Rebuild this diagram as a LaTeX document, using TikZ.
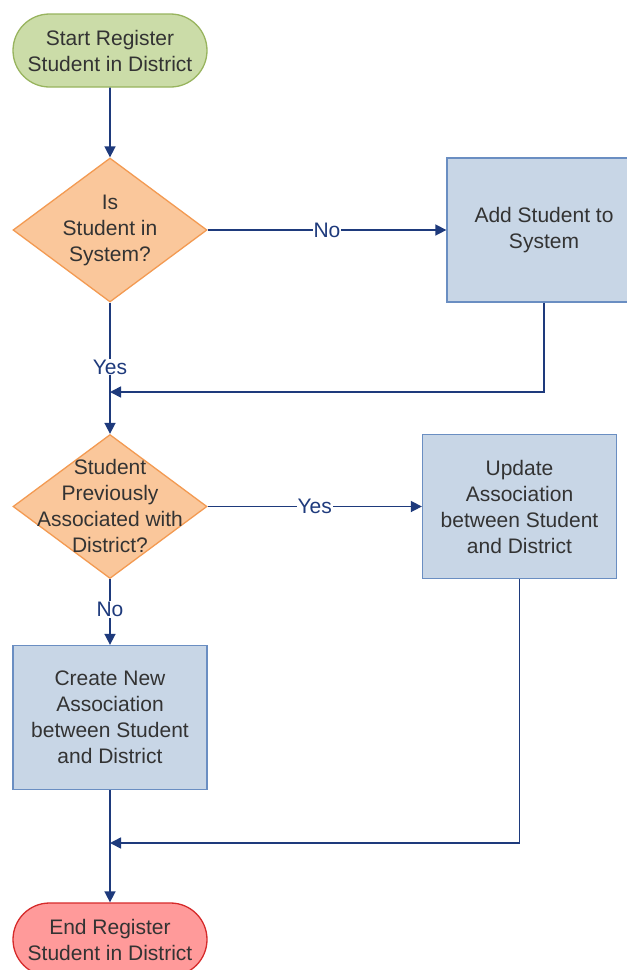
\documentclass[tikz,border=0pt]{standalone}
\usepackage{fontspec}
\setmainfont{Liberation Sans}
\usetikzlibrary{arrows.meta,shapes.geometric,shapes.misc}
\definecolor{termgreen}{HTML}{CBDCA8}
\definecolor{termgreenline}{HTML}{98B45E}
\definecolor{decfill}{HTML}{FAC79B}
\definecolor{decline}{HTML}{F39A52}
\definecolor{procfill}{HTML}{C8D6E6}
\definecolor{procline}{HTML}{6A8EC2}
\definecolor{endfill}{HTML}{FF9A9A}
\definecolor{endline}{HTML}{D62A2A}
\definecolor{flow}{HTML}{1E3A7C}
\definecolor{txtgrey}{HTML}{333333}
\tikzset{
  every node/.style={font=\fontsize{21}{26}\selectfont, text=txtgrey},
  terminal/.style={rounded rectangle, minimum width=194pt, minimum height=73pt,
    inner sep=0pt, line width=1.3pt, align=center},
  startterm/.style={terminal, fill=termgreen, draw=termgreenline},
  endterm/.style={terminal, fill=endfill, draw=endline},
  decision/.style={diamond, minimum width=194pt, minimum height=144pt, inner sep=0pt,
    fill=decfill, draw=decline, line width=1.3pt},
  process/.style={rectangle, minimum width=194pt, minimum height=144pt, inner sep=0pt,
    fill=procfill, draw=procline, line width=1.3pt, align=center},
  caption/.style={align=center, inner sep=0pt},
  flowline/.style={draw=flow, line width=1.6pt},
  flowarrow/.style={flowline, -{Triangle[length=11pt,width=11pt]}},
  branch/.style={fill=white, text=flow, inner sep=1pt},
}
\begin{document}
\begin{tikzpicture}[x=1pt, y=-1pt]
  \useasboundingbox (0,0) rectangle (627,970);
  \clip (0,0) rectangle (627,970);
  \fill[white] (0,0) rectangle (627,970);

  % shapes
  \node[startterm] (start) at (110,50.5) {Start Register\\Student in District};
  \node[decision] (d1) at (110,230) {};
  \node[caption] (d1t) at (110,230) {Is\\Student in\\System?};
  \node[process] (add) at (544,230) {Add Student to\\System};
  \coordinate (j1) at (110,392);
  \node[decision] (d2) at (110,506.5) {};
  \node[caption] (d2t) at (110,506) {Student\\Previously\\Associated with\\District?};
  \node[process] (upd) at (519.5,506.5) {Update\\Association\\between Student\\and District};
  \node[process] (create) at (110,717.5) {Create New\\Association\\between Student\\and District};
  \coordinate (j2) at (110,843);
  \node[endterm] (end) at (110,939.5) {End Register\\Student in District};

  % connectors
  \draw[flowarrow] (start) -- (d1.north);
  \draw[flowarrow] (d1.east) -- node[branch] (lno1) {No} (add.west);
  \draw[flowline] (d1.south) -- node[branch, pos=0.72] (lyes1) {Yes} (j1);
  \draw[flowarrow] (add.south) |- (j1);
  \draw[flowarrow] (j1) -- (d2.north);
  \draw[flowarrow] (d2.east) -- node[branch] (lyes2) {Yes} (upd.west);
  \draw[flowarrow] (d2.south) -- node[branch, pos=0.46] (lno2) {No} (create.north);
  \draw[flowarrow] (upd.south) |- (j2);
  \draw[flowarrow] (create.south) -- (end.north);
\end{tikzpicture}
\end{document}
